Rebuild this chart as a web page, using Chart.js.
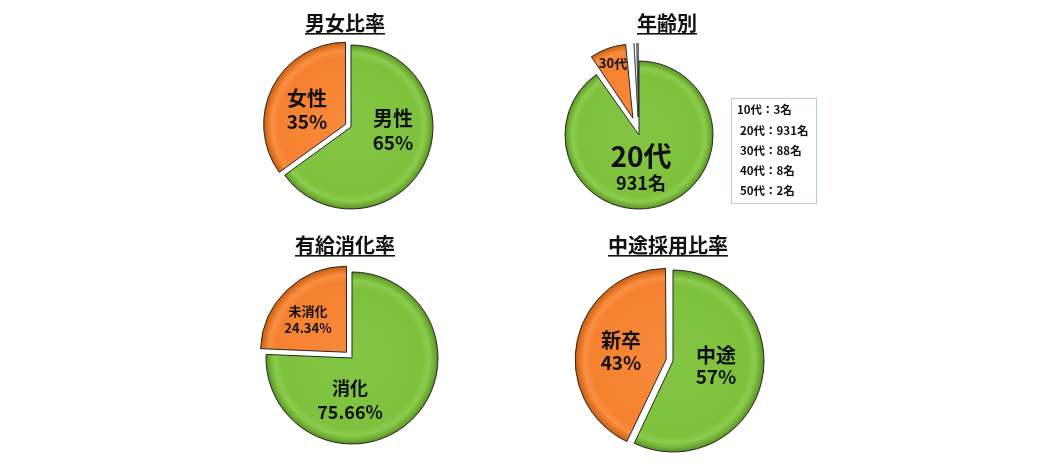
<!DOCTYPE html>
<html><head><meta charset="utf-8">
<script src="https://cdn.jsdelivr.net/npm/chart.js@4.4.1/dist/chart.umd.min.js"></script>
<style>
html,body{margin:0;padding:0;background:#fff;}
#wrap{position:relative;width:1040px;height:466px;overflow:hidden;background:#fff;}
canvas{position:absolute;}
</style></head><body>
<div id="wrap">
<canvas id="c1" width="520" height="228" style="left:0;top:0;width:520px;height:228px"></canvas>
<canvas id="c2" width="520" height="228" style="left:520px;top:0;width:520px;height:228px"></canvas>
<canvas id="c3" width="520" height="238" style="left:0;top:228px;width:520px;height:238px"></canvas>
<canvas id="c4" width="520" height="238" style="left:520px;top:228px;width:520px;height:238px"></canvas>
</div>
<script>
// ---- data ----
const titles = ['男女比率', '年齢別', '有給消化率', '中途採用比率'];
const genderCats = ['男性', '女性'];
const genderValues = [65, 35];
const ageCats = ['10代', '20代', '30代', '40代', '50代'];
const ageValues = [3, 931, 88, 8, 2];
const leaveCats = ['消化', '未消化'];
const leaveValues = [75.66, 24.34];
const hireCats = ['中途', '新卒'];
const hireValues = [57, 43];

// ---- style ----
const FONT = '"Noto Sans CJK JP", "Noto Sans", sans-serif';
const GREEN = [[0, '#84c645'], [0.82, '#7ec13c'], [0.9, '#8bcc4e'], [0.96, '#6fae31'], [1, '#558f22']];
const ORANGE = [[0, '#f88a3c'], [0.82, '#f5812f'], [0.9, '#f88f44'], [0.96, '#e1701f'], [1, '#c45c12']];
const GREY = [[0, '#b8b8b8'], [1, '#9a9a9a']];
const YELLOW = [[0, '#dfe43e'], [1, '#c4ca2a']];
const BLUE = [[0, '#4a6fb5'], [1, '#2f4f8f']];

function grad(stopsList) {
  return function (ctx) {
    const stops = stopsList[ctx.dataIndex];
    const chart = ctx.chart;
    const a = chart.chartArea;
    if (!a) return stops[0][1];
    const cx = (a.left + a.right) / 2, cy = (a.top + a.bottom) / 2;
    const R = ctx.dataset.radius;
    const g = chart.ctx.createRadialGradient(cx, cy, 0, cx, cy, R);
    stops.forEach(s => g.addColorStop(s[0], s[1]));
    return g;
  };
}

function pad(cx, cy, W, H) {
  const a = Math.min(cx, W - cx, cy, H - cy);
  return { left: cx - a, right: W - cx - a, top: cy - a, bottom: H - cy - a };
}

function overlay(cfg) {
  return {
    id: 'overlay',
    afterDatasetUpdate(chart, args) {
      const offs = chart.data.datasets[0].offset || [];
      args.meta.data.forEach((arc, i) => {
        const off = (offs[i] || 0) / 4;
        const circ = arc.endAngle - arc.startAngle;
        const fix = 1 - Math.sin(Math.min(Math.PI, circ));
        arc.outerRadius -= off * fix;
      });
    },
    afterDatasetsDraw(chart) {
      const c = chart.ctx;
      const arc = chart.getDatasetMeta(0).data[0];
      const cx = arc.x, cy = arc.y;
      c.save();
      c.fillStyle = '#111';
      c.textAlign = 'center';
      c.textBaseline = 'middle';
      cfg.labels.forEach(l => {
        c.font = 'bold ' + l.size + 'px ' + FONT;
        c.fillText(l.text, cx + l.dx, cy + l.dy);
      });
      c.font = 'bold 20px ' + FONT;
      c.fillText(cfg.title, cfg.tx, cfg.ty);
      const w = c.measureText(cfg.title).width;
      c.fillRect(cfg.tx - w / 2, cfg.ty + 10, w, 1.6);
      if (cfg.box) {
        const b = cfg.box;
        c.strokeStyle = '#b9cbe4';
        c.lineWidth = 1;
        c.strokeRect(b.x + 0.5, b.y + 0.5, b.w, b.h);
        c.textAlign = 'left';
        c.font = 'bold 11.5px ' + FONT;
        b.lines.forEach((t, i) => c.fillText(t, b.tx + (i === 0 ? -2 : 1), b.ty[i]));
      }
      c.restore();
    }
  };
}

function make(id, W, H, cx, cy, cats, values, radius, offsets, colors, rotation, borders, ovl) {
  return new Chart(document.getElementById(id), {
    type: 'pie',
    data: {
      labels: cats,
      datasets: [{
        data: values,
        radius: radius,
        offset: offsets,
        backgroundColor: grad(colors),
        borderColor: '#262626',
        borderWidth: borders
      }]
    },
    options: {
      responsive: false,
      animation: false,
      rotation: rotation,
      layout: { padding: pad(cx, cy, W, H) },
      plugins: { legend: { display: false }, tooltip: { enabled: false }, title: { display: false } },
      events: []
    },
    plugins: [overlay(ovl)]
  });
}

// 男女比率
make('c1', 520, 228, 351, 127, genderCats, genderValues, 82, [0, 24], [GREEN, ORANGE], 0, 1, {
  title: titles[0], tx: 345, ty: 23,
  labels: [
    { text: genderCats[1], dx: -44, dy: -29, size: 20 },
    { text: genderValues[1] + '%', dx: -44, dy: -5, size: 19 },
    { text: genderCats[0], dx: 42, dy: -9, size: 20 },
    { text: genderValues[0] + '%', dx: 42, dy: 16, size: 19 }
  ]
});

// 年齢別
const ageSum = ageValues.reduce((a, b) => a + b, 0);
make('c2', 520, 228, 119, 135, ageCats, ageValues, 74, [72, 0, 72, 72, 72],
  [BLUE, GREEN, ORANGE, GREY, YELLOW], -ageValues[0] / ageSum * 360, [0.6, 1, 1, 0.6, 0.6], {
  title: titles[1], tx: 147, ty: 23,
  labels: [
    { text: ageCats[1], dx: 2, dy: 21, size: 28 },
    { text: ageValues[1] + '名', dx: 2, dy: 48, size: 18 },
    { text: ageCats[2], dx: -26, dy: -72, size: 13 }
  ],
  box: {
    x: 211, y: 98, w: 85, h: 105, tx: 219,
    ty: [110, 131, 151, 171, 191],
    lines: ageCats.map((c, i) => c + '：' + ageValues[i] + '名')
  }
});

// 有給消化率
make('c3', 520, 238, 352, 130, leaveCats, leaveValues, 86, [0, 32], [GREEN, ORANGE], 0, 1, {
  title: titles[2], tx: 345, ty: 17,
  labels: [
    { text: leaveCats[1], dx: -44, dy: -47, size: 13 },
    { text: leaveValues[1].toFixed(2) + '%', dx: -44, dy: -30, size: 13 },
    { text: leaveCats[0], dx: -2, dy: 30, size: 18 },
    { text: leaveValues[0].toFixed(2) + '%', dx: -2, dy: 54, size: 18 }
  ]
});

// 中途採用比率
make('c4', 520, 238, 153, 133, hireCats, hireValues, 91, [0, 28], [GREEN, ORANGE], 0, 1, {
  title: titles[3], tx: 148, ty: 17,
  labels: [
    { text: hireCats[1], dx: -52, dy: -21, size: 20 },
    { text: hireValues[1] + '%', dx: -52, dy: 2, size: 19 },
    { text: hireCats[0], dx: 43, dy: -6, size: 20 },
    { text: hireValues[0] + '%', dx: 43, dy: 16, size: 19 }
  ]
});
</script>
</body></html>
